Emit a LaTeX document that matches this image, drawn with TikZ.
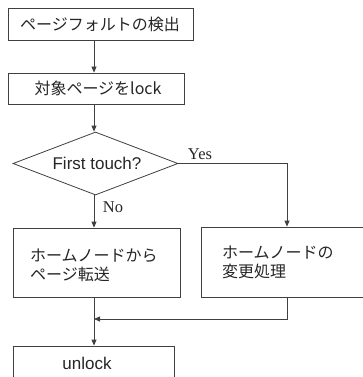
\documentclass[tikz,border=0pt]{standalone}
\usepackage{fontspec}
\setmainfont{Liberation Serif}
\newfontfamily\jpfont{Noto Sans CJK JP}
\newfontfamily\lsfont{Liberation Sans}
\usetikzlibrary{shapes.geometric,arrows.meta}
\begin{document}
\begin{tikzpicture}[x=1pt,y=-1pt,
  line/.style={draw=black!75,line width=0.8pt},
  arr/.style={line,-{Triangle[length=6pt,width=5pt]}},
  box/.style={line,rectangle,inner sep=0pt},
  jptext/.style={font=\jpfont\fontsize{16}{19.5}\selectfont,inner sep=0pt,text=black!85},
  lstext/.style={font=\lsfont\fontsize{17}{20}\selectfont,inner sep=0pt,text=black!85},
  sftext/.style={font=\fontsize{16.5}{19}\selectfont,inner sep=0pt,text=black!85}]
\clip (0,0) rectangle (363,377);
\fill[white] (0,0) rectangle (363,377);
% boxes
\node[box,minimum width=185pt,minimum height=32pt] (b1) at (100.5,24) {};
\node[box,minimum width=176pt,minimum height=31pt] (b2) at (96,88.5) {};
\node[line,diamond,aspect=2.6,minimum width=165pt,minimum height=63pt,inner sep=0pt] (d) at (95.5,163.5) {};
\node[box,minimum width=167pt,minimum height=69pt] (b3) at (96.5,262.5) {};
\node[box,minimum width=190pt,minimum height=70pt] (b4) at (296,262) {};
\node[box,minimum width=161pt,minimum height=60pt] (b5) at (93.5,376) {};
% texts
\node[jptext] (t1) at (100,24.5) {ページフォルトの検出};
\node[jptext] (t2) at (98,88.5) {対象ページをlock};
\node[lstext] (t3) at (97,163) {First touch?};
\node[jptext,align=left,anchor=west] (t4) at (30,265.5) {ホームノードから\\ページ転送};
\node[jptext,align=left,anchor=west] (t5) at (222,262.5) {ホームノードの\\変更処理};
\node[lstext] (t6) at (87,363) {unlock};
\node[sftext] (yes) at (200,154) {Yes};
\node[sftext] (no) at (113,207) {No};
% connectors
\coordinate (xa) at (94,0);
\draw[arr] (b1.south -| xa) -- (b2.north -| xa);
\draw[arr] (b2.south -| xa) -- (d.north -| xa);
\coordinate (xr) at (287,0);
\draw[arr] (d.east) -- (d.east -| xr) -- (b4.north -| xr);
\draw[arr] (d.south -| xa) -- (b3.north -| xa);
\draw[arr] (b3.south -| xa) -- (b5.north -| xa);
\coordinate (m) at (94,319);
\draw[arr] (b4.south -| xr) -- (m -| xr) -- (m);
\end{tikzpicture}
\end{document}
